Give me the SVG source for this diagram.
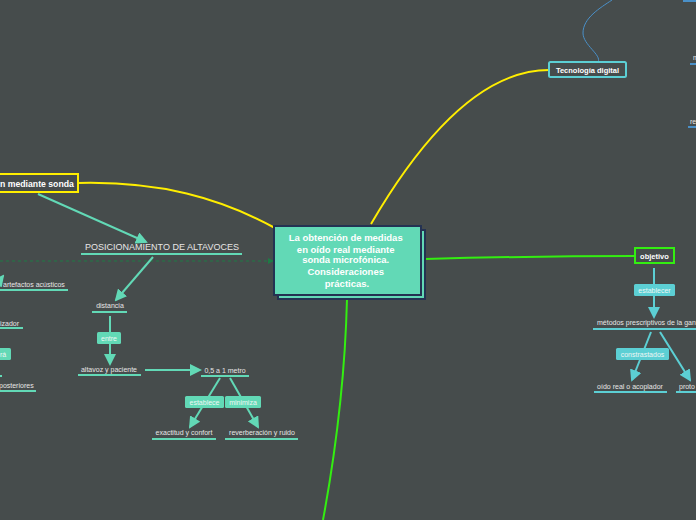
<svg xmlns="http://www.w3.org/2000/svg" width="696" height="520" viewBox="0 0 696 520">
<defs>
<style>
.t{font-family:"Liberation Sans",Arial,sans-serif;fill:#e6e6e6;font-size:7px}
.tb{font-family:"Liberation Sans",Arial,sans-serif;fill:#ffffff;font-weight:bold}
.ul{stroke:#62d9b6;stroke-width:2}
.ulc{stroke:#5ccfd4;stroke-width:2}
.ulb{stroke:#4a90c8;stroke-width:2}
.cn{stroke:#62d9b6;stroke-width:2;fill:none}
.cnc{stroke:#5ccfd4;stroke-width:2;fill:none}
.lb{fill:#62d9b6}
.lbc{fill:#5ccfd4}
.lt{font-family:"Liberation Sans",Arial,sans-serif;fill:#eef7f4;font-size:7px;text-anchor:middle}
</style>
<marker id="ah" markerWidth="12" markerHeight="12" refX="10" refY="6" orient="auto" markerUnits="userSpaceOnUse"><path d="M0,0 L12,6 L0,12 Z" fill="#62d9b6"/></marker>
<marker id="ahc" markerWidth="12" markerHeight="12" refX="10" refY="6" orient="auto" markerUnits="userSpaceOnUse"><path d="M0,0 L12,6 L0,12 Z" fill="#5ccfd4"/></marker>
<marker id="ahd" markerWidth="6" markerHeight="6" refX="5" refY="3" orient="auto" markerUnits="userSpaceOnUse"><path d="M0,0 L6,3 L0,6 Z" fill="#1f7a45"/></marker>
</defs>
<rect width="696" height="520" fill="#464c4c"/>

<g id="connectors">
<path d="M78,183 C160,181 220,198 275,228" stroke="#ffee00" stroke-width="2" fill="none"/>
<path d="M371,224 C420,140 480,70 549,70" stroke="#ffee00" stroke-width="2" fill="none"/>
<path d="M425,259 C500,257 570,256 635,256" stroke="#33ee11" stroke-width="2" fill="none"/>
<path d="M347,299 C345,380 336,450 323,520" stroke="#33ee11" stroke-width="2" fill="none"/>
<path d="M598,62 C602,55 583,45 583,33 C583,18 600,8 612,0" stroke="#4a90c8" stroke-width="1" fill="none"/>
<path d="M0,261 L273,261" stroke="#1f7a45" stroke-width="1.2" stroke-dasharray="3,3" fill="none" marker-end="url(#ahd)"/>
<path class="cn" d="M38,194 L146,242" marker-end="url(#ah)"/>
<path class="cn" d="M153,257 L116,300" marker-end="url(#ah)"/>
<path class="cn" d="M110,316 L110,364" marker-end="url(#ah)"/>
<path class="cn" d="M145,370 L200,370" marker-end="url(#ah)"/>
<path class="cn" d="M220,378 L190,427" marker-end="url(#ah)"/>
<path class="cn" d="M230,378 L258,427" marker-end="url(#ah)"/>
<path class="cn" d="M-4,285 L3,276" marker-end="url(#ah)"/>
<path class="cnc" d="M654,268 L654,317" marker-end="url(#ahc)"/>
<path class="cnc" d="M651,332 L632,380" marker-end="url(#ahc)"/>
<path class="cnc" d="M660,332 L690,380" marker-end="url(#ahc)"/>
<path class="cn" d="M0,376 L2,376"/>
</g>

<g id="central">
<rect x="278" y="230" width="147" height="69" fill="#62d9b6" stroke="#243252" stroke-width="2"/>
<rect x="274" y="226" width="147" height="69" fill="#62d9b6" stroke="#243252" stroke-width="2"/>
<text class="tb" font-size="9.5" text-anchor="middle">
<tspan x="347" y="241">La obtención de medidas</tspan>
<tspan x="347" y="253">en oído real mediante</tspan>
<tspan x="347" y="263">sonda microfónica.</tspan>
<tspan x="347" y="275">Consideraciones</tspan>
<tspan x="347" y="287">prácticas.</tspan>
</text>
</g>

<g id="sonda">
<rect x="-10" y="174" width="88" height="18" fill="#464c4c" stroke="#ffee00" stroke-width="2"/>
<text class="tb" font-size="8.7" x="0" y="186.5">n mediante sonda</text>
</g>

<g id="posicionamiento">
<text x="162" y="250" font-family="'Liberation Sans',Arial,sans-serif" font-size="9" fill="#e6e6e6" text-anchor="middle">POSICIONAMIENTO DE ALTAVOCES</text>
<line class="ul" x1="81" y1="254" x2="242" y2="254"/>
</g>

<g id="distancia">
<text class="t" x="110" y="308" text-anchor="middle">distancia</text>
<line class="ul" x1="92" y1="312" x2="127" y2="312"/>
</g>
<g id="lbl-entre">
<rect class="lb" x="97" y="332" width="24" height="12" rx="1.5"/>
<text class="lt" x="109" y="340.5">entre</text>
</g>
<g id="altavoz">
<text class="t" x="109" y="372" text-anchor="middle">altavoz y paciente</text>
<line class="ul" x1="78" y1="375" x2="141" y2="375"/>
</g>
<g id="metro">
<text class="t" x="225" y="373" text-anchor="middle">0,5 a 1 metro</text>
<line class="ul" x1="201" y1="376" x2="249" y2="376"/>
</g>
<g id="lbl-establece">
<rect class="lb" x="185" y="396" width="39" height="12" rx="1.5"/>
<text class="lt" x="204.5" y="404.5">establece</text>
</g>
<g id="lbl-minimiza">
<rect class="lb" x="225" y="396" width="36" height="12" rx="1.5"/>
<text class="lt" x="243" y="404.5">minimiza</text>
</g>
<g id="exactitud">
<text class="t" x="184" y="435" text-anchor="middle">exactitud y confort</text>
<line class="ul" x1="152" y1="439" x2="216" y2="439"/>
</g>
<g id="reverberacion">
<text class="t" x="262" y="435" text-anchor="middle">reverberación y ruido</text>
<line class="ul" x1="225" y1="439" x2="298" y2="439"/>
</g>

<g id="artefactos">
<text class="t" x="3" y="287">artefactos acústicos</text>
<line class="ul" x1="0" y1="290" x2="68" y2="290"/>
</g>
<g id="izador">
<text class="t" x="0" y="326">izador</text>
<line class="ul" x1="0" y1="328" x2="23" y2="328"/>
</g>
<g id="lbl-ra">
<rect class="lb" x="-10" y="348" width="21" height="12" rx="1.5"/>
<text class="lt" x="3" y="356.5">rá</text>
</g>
<g id="posteriores">
<text class="t" x="-1" y="388">posteriores</text>
<line class="ul" x1="0" y1="391" x2="36" y2="391"/>
</g>

<g id="tecnologia">
<rect x="549" y="62" width="77" height="15" rx="1.5" fill="#464c4c" stroke="#5ccfd4" stroke-width="2"/>
<text class="tb" font-size="7.5" x="587.5" y="72.5" text-anchor="middle">Tecnología digital</text>
</g>
<g id="blue-top">
<line class="ulb" x1="683" y1="1" x2="696" y2="1"/>
</g>
<g id="blue-m">
<text class="t" x="693" y="60">m</text>
<line class="ulb" x1="690" y1="64" x2="696" y2="64"/>
</g>
<g id="blue-re">
<text class="t" x="690" y="124">re</text>
<line class="ulb" x1="688" y1="127" x2="696" y2="127"/>
</g>

<g id="objetivo">
<rect x="635" y="248" width="39" height="15" fill="#464c4c" stroke="#33ee11" stroke-width="2"/>
<text class="tb" font-size="7.5" x="654.5" y="258.5" text-anchor="middle">objetivo</text>
</g>
<g id="lbl-establecer">
<rect class="lbc" x="634" y="284" width="41" height="12" rx="1.5"/>
<text class="lt" x="654.5" y="292.5">establecer</text>
</g>
<g id="metodos">
<text class="t" x="597" y="325">métodos prescriptivos de la gan</text>
<line class="ulc" x1="593" y1="329" x2="696" y2="329"/>
</g>
<g id="lbl-constrastados">
<rect class="lbc" x="616" y="348" width="53" height="12" rx="1.5"/>
<text class="lt" x="642.5" y="356.5">constrastados</text>
</g>
<g id="oido">
<text class="t" x="630" y="389" text-anchor="middle">oído real o acoplador</text>
<line class="ulc" x1="594" y1="392" x2="667" y2="392"/>
</g>
<g id="proto">
<text class="t" x="679" y="389">proto</text>
<line class="ulc" x1="676" y1="392" x2="696" y2="392"/>
</g>
</svg>
